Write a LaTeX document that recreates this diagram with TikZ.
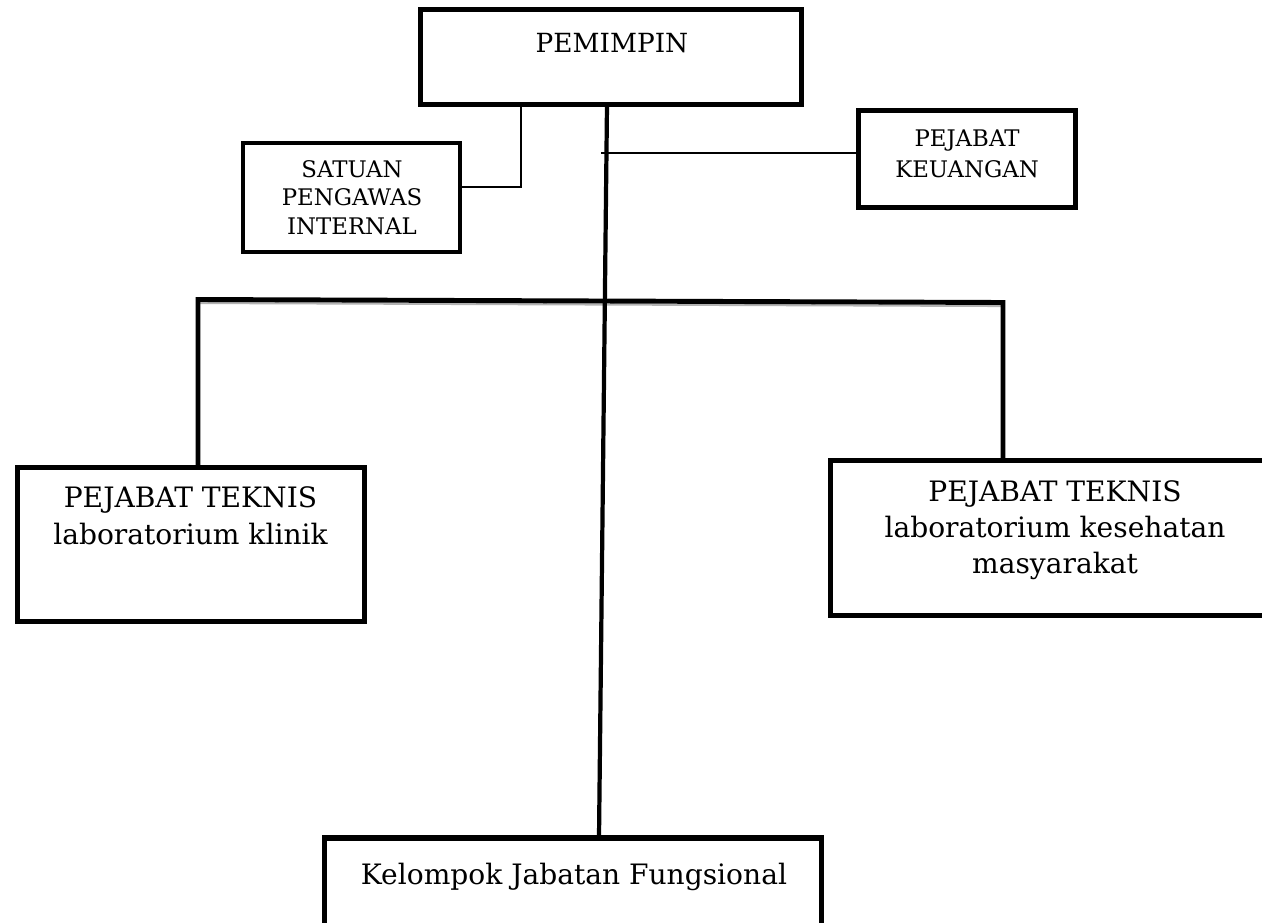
\documentclass[tikz,border=0pt]{standalone}
\usepackage{fontspec}
\setmainfont{DejaVu Serif}
\usepackage{tikz}
\usetikzlibrary{positioning}
\tikzset{
  Kotak/.style={draw, line width=#1, inner sep=0pt, outer sep=0pt}, % untuk kotak jabatan
  Teks/.style={inner sep=0pt, align=center, anchor=base, font=#1}, % untuk tulisan, base = baris terakhir
  Garis/.style={line width=#1, line cap=butt, line join=miter} % untuk garis penghubung
}

\begin{document}
\begin{tikzpicture}[%
x=0.02cm, y=-0.02cm,
>=latex % Voreinstellung
]
\useasboundingbox (0,0) rectangle (1262,923);
\clip (0,0) rectangle (1262,923);

%Kotak
\node[Kotak=2.9pt, minimum width=7.62cm, minimum height=1.9cm] (Pim) at (611,57) {};
\node[Kotak=2.4pt, minimum width=4.34cm, minimum height=2.18cm] (SPI) at (351.5,197.5) {};
\node[Kotak=2.9pt, minimum width=4.34cm, minimum height=1.94cm] (Keu) at (967,159) {};
\node[Kotak=2.9pt, minimum width=6.94cm, minimum height=3.08cm] (TekKl) at (191,544.5) {};
\node[Kotak=2.9pt, minimum width=9.02cm, minimum height=3.1cm] (TekKm) at (1056,538) {};
\node[Kotak=2.9pt, minimum width=9.94cm, minimum height=2.4cm] (JabF) at (573,898) {};

%Teks
\node[Teks=\fontsize{15pt}{18pt}\selectfont] (Pim-t) at (612,52) {PEMIMPIN};
\node[Teks=\fontsize{13pt}{16pt}\selectfont] (SPI-t) at (352,234) {SATUAN\\PENGAWAS\\INTERNAL};
\node[Teks=\fontsize{13pt}{17.5pt}\selectfont] (Keu-t) at (967,177) {PEJABAT\\KEUANGAN};
\node[Teks=\fontsize{16pt}{21pt}\selectfont] (TekKl-t) at (190.5,544) {PEJABAT TEKNIS\\laboratorium klinik};
\node[Teks=\fontsize{16pt}{20.3pt}\selectfont] (TekKm-t) at (1055,573) {PEJABAT TEKNIS\\laboratorium kesehatan\\masyarakat};
\node[Teks=\fontsize{16pt}{20pt}\selectfont] (JabF-t) at (574,884) {Kelompok Jabatan Fungsional};

%Garis
\coordinate (BusL) at (198,299.5);
\coordinate (BusR) at (1003,302.5);
\coordinate (KeuT) at (601,153);
\draw[Garis=1.2pt, gray!60] ([yshift=-0.07cm]BusL) -- ([yshift=-0.07cm]BusR);
\draw[Garis=2.8pt] (TekKl.north -| BusL) -- (BusL) -- (BusR) -- (BusR |- TekKm.north);
\draw[Garis=2.4pt] ([xshift=-0.08cm]Pim.south) -- ([xshift=0.52cm]JabF.north);
\draw[Garis=1.1pt] ([xshift=-1.8cm]Pim.south) |- ([yshift=0.21cm]SPI.east);
\draw[Garis=0.9pt] (KeuT) -- (KeuT -| Keu.west);

\end{tikzpicture}
\end{document}
